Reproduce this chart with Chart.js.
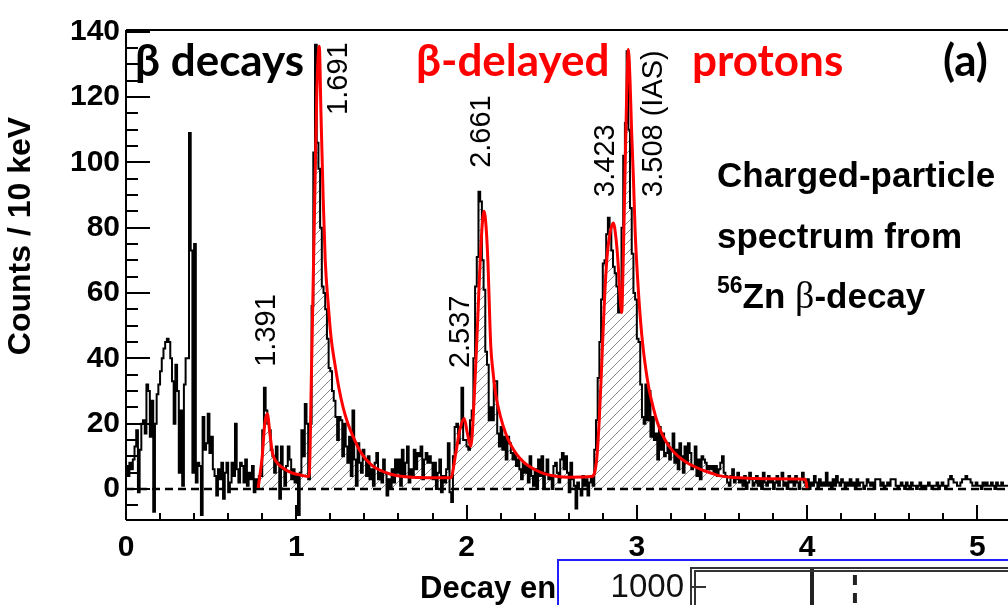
<!DOCTYPE html>
<html>
<head>
<meta charset="utf-8">
<script src="https://cdn.jsdelivr.net/npm/chart.js@4.4.0/dist/chart.umd.min.js"></script>
<style>
  html, body { margin: 0; padding: 0; background: #fff; overflow: hidden; }
  #wrap { position: relative; width: 1008px; height: 605px; overflow: hidden; }
  #mainChart { position: absolute; left: 0; top: 0; }
  #inset { position: absolute; left: 557px; top: 559px; width: 470px; height: 80px;
           border: 2px solid #2020ff; background: #fff; overflow: hidden; }
  #insetChart { position: absolute; left: 0; top: 0; }
</style>
</head>
<body>
<div id="wrap">
  <canvas id="mainChart" width="1100" height="605"></canvas>
  <div id="inset"><canvas id="insetChart" width="470" height="420"></canvas></div>
</div>
<script>
// histogram: counts per 10 keV bin, starting at 0 MeV
const binStart = 0;
const binWidth = 0.01;
const histCounts = [
  5, 7, 4, 8, 6, 9, 13, 18, -1, 12,
  20, 21, 17, 32, 30, 16, 27, -7, 20, 29,
  32, 36, 40, 43, 45, 46, 45, 40, 33, 20,
  38, 30, 5, 24, 1, 32, 40, 40, 109, 73,
  5, 75, 2, 8, 7, -8, 22, 12, 14, 23,
  11, 16, 6, 4, -2, 6, 3, 8, -3, 5,
  8, -1, 2, 8, 4, 20, 6, 2, 8, 7,
  2, 9, 1, 5, 3, 7, -1, 3, 0, 4,
  4, 18, 31, 24, 20, 18, 12, 10, 5, 13,
  8, -3, 13, 6, 1, 7, 13, 9, 3, 6,
  2, 4, -8, 5, 18, 10, 26, 20, 3, 20,
  56, 103, 136, 106, 98, 80, 62, 60, 55, 46,
  37, 36, 30, 27, 22, 15, 22, 21, 10, 20,
  13, 8, 16, 4, 24, 9, 1, 14, 8, 5,
  12, 9, 4, 10, 3, 6, 1, 8, 11, 3,
  5, 2, 9, 5, -2, 3, 0, 6, 2, 9,
  5, 9, 1, 12, 4, 8, 13, 2, 6, 4,
  12, 6, 11, 10, 13, 3, 9, 11, 8, 10,
  8, 3, 8, 0, 5, 9, -1, 4, 2, 6,
  14, -1, -4, 10, 19, 20, 14, 19, 31, 15,
  15, 13, 12, 21, 24, 40, 62, 71, 91, 88,
  70, 61, 42, 38, 21, 25, 21, 33, 33, 17,
  13, 19, 12, 16, 9, 16, 14, 11, 9, 11,
  7, 9, 6, 3, 8, 5, 7, 2, 10, 4,
  1, 6, 0, 9, 4, 10, 0, 5, 9, 3,
  4, 0, 7, 8, 5, 2, 9, 11, 6, 10,
  5, -1, 8, 3, 1, -6, 2, 0, -2, 4,
  1, 3, -2, 2, 4, 1, 12, 21, 34, 45,
  58, 69, 70, 78, 83, 80, 73, 68, 66, 62,
  54, 60, 80, 102, 112, 134, 110, 86, 72, 60,
  58, 46, 45, 32, 22, 20, 32, 21, 30, 16,
  22, 15, 17, 9, 19, 12, 17, 10, 11, 14,
  9, 12, 17, 8, 12, 6, 14, 10, 5, 13,
  8, 14, 11, 6, 7, 13, 4, 9, 3, 10,
  9, 8, 6, 7, 6, 7, 5, 7, 4, 6,
  8, 10, 5, 4, 2, 1, 4, 6, 2, 3,
  5, 2, 3, 1, 4, 0, 2, 5, 3, 1,
  2, 4, 1, 3, 0, 5, 2, 1, 4, 2,
  3, 0, 2, 4, 1, 3, 5, 1, 2, 0,
  4, 2, 3, 1, 4, 2, 0, 3, 5, 2,
  1, 3, 0, 2, 1, 4, 2, 0, 3, 1,
  2, 1, 5, 1, 2, 0, 3, 1, 4, 2,
  1, 3, 2, 0, 2, 1, 3, 1, 2, 0,
  3, 1, 2, 2, 0, 1, 3, 2, 1, 2,
  0, 3, 3, 3, 1, 2, 0, 1, 2, 1,
  3, 3, 3, 1, 0, 1, 2, 1, 0, 2,
  1, 0, 2, 1, 1, 0, 1, 2, 0, 1,
  0, 1, 2, 1, 0, 1, 1, 2, 0, 1,
  2, 1, 0, 1, 3, 4, 3, 2, 2, 1,
  1, 2, 3, 3, 4, 3, 3, 2, 1, 1,
  2, 1, 1, 0, 2, 1, 2, 1, 1, 2,
  1, 0, 2, 1, 1, 2, 1, 1
];

// proton gate (hatched region)
const gateLow = 0.78;
const gateHigh = 4.0;

// fit curve (red)
const fitEnergy = [0.776, 0.80, 0.815, 0.83, 0.845, 0.86, 0.88, 0.92, 0.97, 1.03, 1.075,
  1.09, 1.105, 1.12, 1.135, 1.145, 1.158, 1.17, 1.187, 1.205, 1.226, 1.25, 1.275, 1.30,
  1.334, 1.37, 1.41, 1.45, 1.49, 1.55, 1.627, 1.725, 1.80, 1.907, 1.937, 1.96, 1.986,
  2.005, 2.025, 2.045, 2.064, 2.085, 2.102, 2.115, 2.125, 2.142, 2.155, 2.171, 2.20,
  2.23, 2.26, 2.289, 2.34, 2.406, 2.46, 2.523, 2.60, 2.735, 2.764, 2.78, 2.794, 2.81,
  2.825, 2.845, 2.862, 2.877, 2.89, 2.90, 2.911, 2.92, 2.93, 2.94, 2.95, 2.96, 2.969,
  2.98, 2.99, 3.005, 3.018, 3.033, 3.048, 3.07, 3.096, 3.12, 3.146, 3.19, 3.243, 3.29,
  3.34, 3.40, 3.44, 3.49, 3.60, 3.76, 3.99, 4.0];
const fitCounts = [0.3, 10, 20, 23, 17, 11, 8.5, 6.5, 5, 4.2, 3.8,
  38, 79, 120, 135.5, 115, 89, 70, 57, 46, 38.5, 31, 25, 20.5,
  16, 12, 9, 7, 5.8, 4.6, 3.8, 3.5, 3.4, 3.4, 11, 18, 21.6,
  17, 13, 28, 50, 75, 85, 80, 70, 44, 36, 29, 22,
  17, 13.5, 11, 8, 5.8, 4.6, 3.9, 3.6, 3.8, 9, 22, 38.5, 58,
  71, 79, 81.4, 77, 69, 60, 54, 70, 95, 120, 134.5, 125, 110,
  95, 79, 64, 54, 45, 38.5, 31, 25, 20.5, 17, 13, 10, 8.2,
  6.8, 5.5, 4.8, 4.0, 3.4, 3.1, 3.0, 0.2];

const peakLabels = ['1.391', '1.691', '2.537', '2.661', '3.423', '3.508 (IAS)'];
const xTickStep = 1;
const yTickStep = 20;

// inset (partly visible second panel)
const insetGates = [3.58, 4.85];
const insetYMax = 1400;
const insetTickLabels = [1000];

function makeHatch() {
  const c = document.createElement('canvas');
  c.width = 10; c.height = 10;
  const g = c.getContext('2d');
  g.strokeStyle = '#8a8a8a';
  g.lineWidth = 1;
  g.beginPath();
  g.moveTo(0, 10); g.lineTo(10, 0);
  g.moveTo(-5, 5); g.lineTo(5, -5);
  g.moveTo(5, 15); g.lineTo(15, 5);
  g.stroke();
  return g.createPattern(c, 'repeat');
}

const histPoints = histCounts.map((v, i) => ({ x: binStart + i * binWidth, y: v }));
histPoints.push({ x: binStart + histCounts.length * binWidth, y: histCounts[histCounts.length - 1] });
const gatePoints = histPoints.filter(p => p.x >= gateLow - 1e-9 && p.x < gateHigh - 1e-9);
gatePoints.push({ x: gateHigh, y: gatePoints[gatePoints.length - 1].y });
const fitPoints = fitEnergy.map((e, i) => ({ x: e, y: fitCounts[i] }));

const xMax = 5.72;

const decor = {
  id: 'decor',
  afterDraw(chart) {
    const ctx = chart.ctx;
    const { left, right, top, bottom } = chart.chartArea;
    const xs = chart.scales.x, ys = chart.scales.y;
    ctx.save();
    ctx.strokeStyle = '#000';
    ctx.lineWidth = 2;
    ctx.beginPath();
    ctx.moveTo(left, top); ctx.lineTo(right, top);
    ctx.moveTo(left, top); ctx.lineTo(left, bottom);
    ctx.moveTo(left, bottom); ctx.lineTo(right, bottom);
    for (let k = Math.ceil(ys.min / 5); k * 5 <= ys.max; k++) {
      const py = Math.round(ys.getPixelForValue(k * 5));
      ctx.moveTo(left, py); ctx.lineTo(left + (k % 4 === 0 ? 24 : 12), py);
    }
    for (let k = 0; k * 0.2 <= xs.max; k++) {
      const px = Math.round(xs.getPixelForValue(k * 0.2));
      ctx.moveTo(px, bottom); ctx.lineTo(px, bottom - (k % 5 === 0 ? 15 : 7));
    }
    ctx.stroke();

    // headline words
    ctx.textAlign = 'left';
    ctx.textBaseline = 'alphabetic';
    ctx.font = 'bold 44px Lato';
    ctx.fillStyle = '#000';
    ctx.fillText('β decays', 135, 76);
    ctx.fillStyle = '#f00';
    ctx.fillText('β-delayed', 416, 76);
    ctx.fillText('protons', 692, 76);
    ctx.fillStyle = '#000';
    ctx.fillText('(a)', 943, 76);

    // peak energies, rotated
    const labelPos = [[0.827, 37.4], [1.250, 114.5], [1.966, 37], [2.089, 98.3], [2.817, 89.4], [3.099, 89.4]];
    ctx.font = '29px "Liberation Sans"';
    peakLabels.forEach((t, i) => {
      ctx.save();
      ctx.translate(xs.getPixelForValue(labelPos[i][0]), ys.getPixelForValue(labelPos[i][1]));
      ctx.rotate(-Math.PI / 2);
      ctx.textBaseline = 'middle';
      ctx.fillText(t, 0, 0);
      ctx.restore();
    });

    // description block
    ctx.font = 'bold 35px "Liberation Sans"';
    ctx.fillText('Charged-particle', 717, 187);
    ctx.fillText('spectrum from', 717, 248);
    let cx = 717;
    ctx.font = 'bold 23px "Liberation Sans"';
    ctx.fillText('56', cx, 293);
    cx += ctx.measureText('56').width;
    ctx.font = 'bold 35px "Liberation Sans"';
    ctx.fillText('Zn ', cx, 308);
    cx += ctx.measureText('Zn ').width;
    ctx.font = '38px "Liberation Serif"';
    ctx.fillText('β', cx, 308);
    cx += ctx.measureText('β').width;
    ctx.font = 'bold 35px "Liberation Sans"';
    ctx.fillText('-decay', cx, 308);

    // axis titles
    ctx.font = 'bold 32px "Liberation Sans"';
    ctx.save();
    ctx.translate(21, 236);
    ctx.rotate(-Math.PI / 2);
    ctx.textAlign = 'center';
    ctx.textBaseline = 'middle';
    ctx.fillText('Counts / 10 keV', 0, 0);
    ctx.restore();
    ctx.font = 'bold 31px "Liberation Sans"';
    ctx.fillText('Decay energy (MeV)', 420, 598);
    ctx.restore();
  }
};

new Chart(document.getElementById('mainChart'), {
  type: 'line',
  data: {
    datasets: [
      { data: gatePoints, stepped: 'after', fill: 'origin', backgroundColor: makeHatch(),
        borderWidth: 0, pointRadius: 0, order: 4 },
      { data: [{ x: 0, y: 0 }, { x: xMax, y: 0 }], borderColor: '#000', borderWidth: 2.5,
        borderDash: [8, 5], pointRadius: 0, order: 3 },
      { data: histPoints, stepped: 'after', borderColor: '#000', borderWidth: 2,
        pointRadius: 0, fill: false, order: 2 },
      { data: fitPoints, borderColor: '#f00', borderWidth: 3, pointRadius: 0,
        cubicInterpolationMode: 'monotone', fill: false, order: 1 }
    ]
  },
  options: {
    responsive: false,
    animation: false,
    layout: { padding: { top: 30, right: 0, left: 0, bottom: 0 } },
    plugins: { legend: { display: false }, tooltip: { enabled: false } },
    scales: {
      x: {
        type: 'linear', min: 0, max: xMax,
        afterFit(s) { s.height = 85; },
        grid: { display: false, drawTicks: false },
        border: { display: false },
        ticks: { stepSize: xTickStep, includeBounds: false, padding: 10, color: '#000',
                 maxRotation: 0, autoSkip: false,
                 font: { family: 'Liberation Sans', size: 30, weight: 'bold' } }
      },
      y: {
        min: -9.5, max: 140.5,
        afterFit(s) { s.width = 126; },
        grid: { display: false, drawTicks: false },
        border: { display: false },
        ticks: { stepSize: yTickStep, includeBounds: false, padding: 6, color: '#000',
                 font: { family: 'Liberation Sans', size: 30, weight: 'bold' } }
      }
    }
  },
  plugins: [decor]
});

const insetFrame = {
  id: 'insetFrame',
  afterDraw(chart) {
    const ctx = chart.ctx;
    const { left, right, top, bottom } = chart.chartArea;
    const ys = chart.scales.y;
    ctx.save();
    ctx.lineWidth = 2;
    ctx.strokeStyle = '#333';
    ctx.beginPath();
    ctx.moveTo(left, bottom); ctx.lineTo(left, top); ctx.lineTo(right, top);
    ctx.moveTo(left + 4, bottom); ctx.lineTo(left + 4, top + 3); ctx.lineTo(right, top + 3);
    insetTickLabels.forEach(v => {
      const py = Math.round(ys.getPixelForValue(v));
      ctx.moveTo(left, py); ctx.lineTo(left + 15, py);
    });
    ctx.stroke();
    ctx.fillStyle = '#111';
    ctx.font = '33px "Liberation Sans"';
    ctx.textAlign = 'right';
    ctx.textBaseline = 'middle';
    insetTickLabels.forEach(v => {
      ctx.fillText(String(v), left - 7, ys.getPixelForValue(v) + 1);
    });
    ctx.restore();
  }
};

new Chart(document.getElementById('insetChart'), {
  type: 'line',
  data: {
    datasets: [
      { data: [{ x: insetGates[0], y: 1 }, { x: insetGates[0], y: insetYMax }],
        borderColor: '#222', borderWidth: 4, pointRadius: 0 },
      { data: [{ x: insetGates[1], y: 1 }, { x: insetGates[1], y: insetYMax }],
        borderColor: '#222', borderWidth: 4, borderDash: [10, 8], pointRadius: 0 }
    ]
  },
  options: {
    responsive: false,
    animation: false,
    layout: { padding: { top: 7, right: 0, left: 0, bottom: 0 } },
    plugins: { legend: { display: false }, tooltip: { enabled: false } },
    scales: {
      x: { type: 'linear', min: 0, max: 10, display: false },
      y: {
        type: 'logarithmic', min: 1, max: insetYMax,
        afterFit(s) { s.width = 132; },
        grid: { display: false, drawTicks: false },
        border: { display: false },
        ticks: { display: false }
      }
    }
  },
  plugins: [insetFrame]
});
</script>
</body>
</html>
